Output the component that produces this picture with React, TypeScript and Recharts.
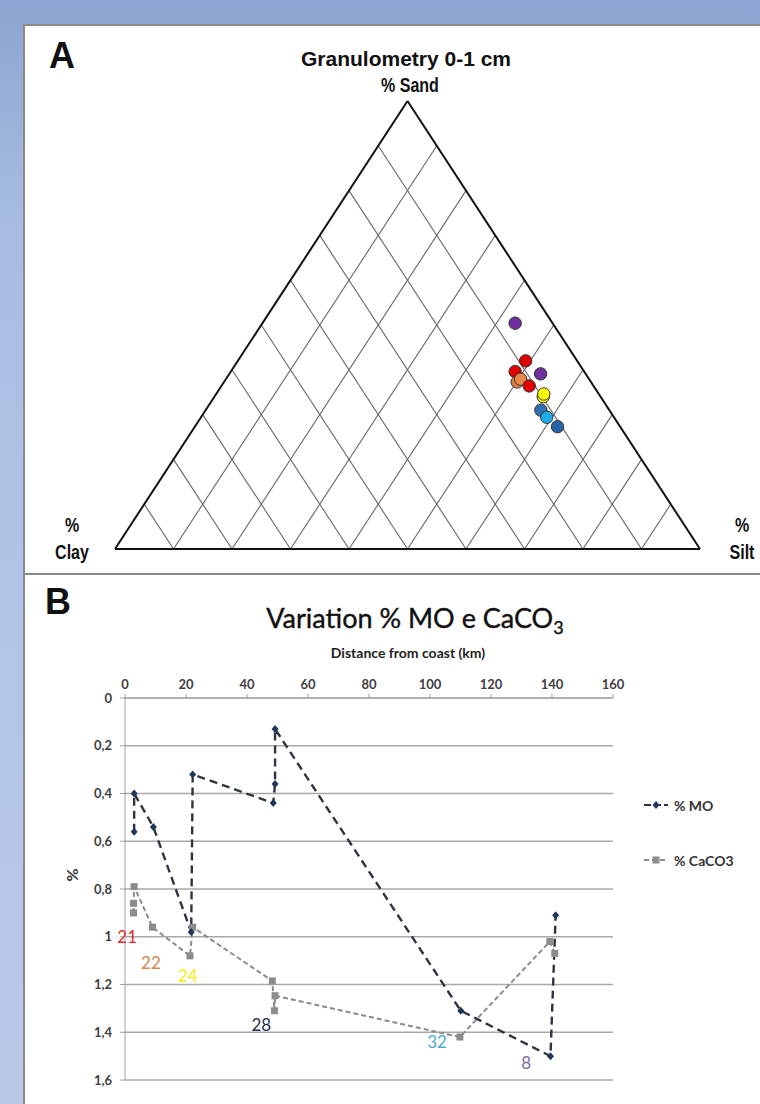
import React from 'react';
import {
  ScatterChart, Scatter, XAxis, YAxis, ReferenceLine, Cell,
  LineChart, Line, CartesianGrid, ReferenceDot,
} from 'recharts';

// A: granulometry of the 0-1 cm layer (%), one entry per sample
const sand = [50.4, 42.0, 39.6, 39.1, 37.3, 37.9, 36.4, 34.0, 34.6, 31.0, 29.4, 27.3];
const silt = [43.2, 49.2, 48.6, 53.2, 50.1, 50.4, 52.6, 56.2, 56.0, 57.3, 59.1, 62.0];
const sampleColors = [
  '#7030a0', '#e00000', '#e00000', '#7030a0', '#e07b3c', '#e8894a',
  '#e00000', '#ffff00', '#ffff00', '#2e6fb5', '#1fa9e6', '#2464a8',
];
const gridSteps = [10, 20, 30, 40, 50, 60, 70, 80, 90];

// B: % MO and % CaCO3 against distance from coast (km), in plotted order
const moKm = [3, 3, 9.3, 21.7, 22.2, 48.6, 49.2, 49.2, 110.1, 139.5, 141.2];
const moPct = [0.56, 0.4, 0.54, 0.98, 0.32, 0.44, 0.36, 0.13, 1.31, 1.5, 0.91];
const caKm = [2.8, 2.8, 3, 9, 21.3, 22.2, 48.3, 49, 49.2, 109.8, 139.3, 140.9];
const caPct = [0.9, 0.86, 0.79, 0.96, 1.08, 0.96, 1.185, 1.31, 1.247, 1.42, 1.02, 1.07];
const kmTicks = [0, 20, 40, 60, 80, 100, 120, 140, 160];
const pctTicks = [0, 0.2, 0.4, 0.6, 0.8, 1, 1.2, 1.4, 1.6];

// station numbers written next to the curves
const stationNames = ['21', '22', '24', '28', '32', '8'];
const stationKm = [0.7, 8.5, 20.6, 44.7, 102.3, 131.5];
const stationPct = [1.0, 1.11, 1.165, 1.37, 1.44, 1.527];
const stationColors = ['#e02b2b', '#d08848', '#f2ee10', '#1f3252', '#4bacc6', '#7a6a9a'];

const ternaryPts = sand.map((s, i) => ({ x: silt[i] + s / 2, y: s, color: sampleColors[i] }));
const moData = moKm.map((km, i) => ({ km, pct: moPct[i] }));
const caData = caKm.map((km, i) => ({ km, pct: caPct[i] }));

const arial = '"Liberation Sans", Arial, sans-serif';
const calibri = 'Lato, "Open Sans", sans-serif';

const fmtPct = (v: number) => (Number.isInteger(v) ? String(v) : v.toFixed(1).replace('.', ','));

function Diamond(p: any) {
  const { cx, cy } = p;
  return <path key={p.index} d={`M${cx},${cy - 4}L${cx + 3.5},${cy}L${cx},${cy + 4}L${cx - 3.5},${cy}Z`} fill="#22365a" />;
}

function Square(p: any) {
  return <rect key={p.index} x={p.cx - 3.5} y={p.cy - 3.5} width={7} height={7} fill="#8c8c8c" />;
}

function Text({ x, y, children, style }: any) {
  return (
    <div style={{ position: 'absolute', left: x, top: y, transform: 'translate(-50%,-50%)', whiteSpace: 'nowrap', lineHeight: 1, ...style }}>
      {children}
    </div>
  );
}

export default function App() {
  const narrow = { fontFamily: arial, fontWeight: 700, fontSize: 20, color: '#111', transform: 'translate(-50%,-50%) scaleX(0.8)' };
  const tick = { fill: '#404040', fontSize: 13, fontWeight: 700, fontFamily: calibri };
  return (
    <div style={{
      position: 'absolute', left: 0, top: 0, width: 760, height: 1104, overflow: 'hidden',
      background: 'linear-gradient(180deg, #8ba5d2 0%, #a8bce2 20%, #b3c5e7 60%, #b8c9e8 100%)',
    }}>
      {/* panel A */}
      <div style={{ position: 'absolute', left: 23, top: 24, width: 745, height: 547, background: '#fff', border: '2px solid #8a8a8a' }} />
      <Text x={62} y={56} style={{ fontFamily: arial, fontWeight: 700, fontSize: 36, color: '#111' }}>A</Text>
      <Text x={406} y={58} style={{ fontFamily: arial, fontWeight: 700, fontSize: 21, color: '#111' }}>Granulometry 0-1 cm</Text>
      <Text x={410} y={85} style={narrow}>% Sand</Text>
      <Text x={72} y={525} style={narrow}>%</Text>
      <Text x={72} y={552} style={narrow}>Clay</Text>
      <Text x={742} y={525} style={narrow}>%</Text>
      <Text x={742} y={552} style={narrow}>Silt</Text>

      <div style={{ position: 'absolute', left: 105, top: 91 }}>
        <ScatterChart width={605} height={468} margin={{ top: 10, right: 10, bottom: 10, left: 10 }}>
          <XAxis type="number" dataKey="x" domain={[0, 100]} hide />
          <YAxis type="number" dataKey="y" domain={[0, 100]} hide width={0} />
          {gridSteps.map((c) => (
            <ReferenceLine key={'c' + c} segment={[{ x: 100 - c, y: 0 }, { x: (100 - c) / 2, y: 100 - c }]} stroke="#666" strokeWidth={1.1} />
          ))}
          {gridSteps.map((s) => (
            <ReferenceLine key={'s' + s} segment={[{ x: s, y: 0 }, { x: s + (100 - s) / 2, y: 100 - s }]} stroke="#666" strokeWidth={1.1} />
          ))}
          <ReferenceLine segment={[{ x: 0, y: 0 }, { x: 100, y: 0 }]} stroke="#111" strokeWidth={2} />
          <ReferenceLine segment={[{ x: 0, y: 0 }, { x: 50, y: 100 }]} stroke="#111" strokeWidth={2} />
          <ReferenceLine segment={[{ x: 50, y: 100 }, { x: 100, y: 0 }]} stroke="#111" strokeWidth={2} />
          <Scatter
            data={ternaryPts}
            isAnimationActive={false}
            shape={(p: any) => <circle cx={p.cx} cy={p.cy} r={6.2} fill={p.fill} stroke="#333" strokeWidth={1} />}
          >
            {ternaryPts.map((d, i) => <Cell key={i} fill={d.color} />)}
          </Scatter>
        </ScatterChart>
      </div>

      {/* panel B */}
      <div style={{ position: 'absolute', left: 23, top: 573, width: 745, height: 540, background: '#fff', border: '2px solid #8a8a8a' }} />
      <Text x={58} y={602} style={{ fontFamily: arial, fontWeight: 700, fontSize: 36, color: '#111' }}>B</Text>
      <Text x={415} y={620} style={{ fontFamily: calibri, fontSize: 27, color: '#111', WebkitTextStroke: '0.4px #111' }}>
        Variation % MO e CaCO<sub style={{ fontSize: 18, verticalAlign: -6 }}>3</sub>
      </Text>
      <Text x={408} y={653} style={{ fontFamily: calibri, fontWeight: 700, fontSize: 14, color: '#222' }}>Distance from coast (km)</Text>
      <Text x={72} y={875} style={{ fontFamily: calibri, fontWeight: 700, fontSize: 16, color: '#333', transform: 'translate(-50%,-50%) rotate(-90deg)' }}>%</Text>

      <div style={{ position: 'absolute', left: 0, top: 640 }}>
        <LineChart width={760} height={460} margin={{ top: 28, right: 147, bottom: 20, left: 65 }}>
          <CartesianGrid vertical={false} stroke="#a8a8a8" strokeWidth={1.3} />
          <XAxis
            type="number" dataKey="km" orientation="top" domain={[0, 160]} ticks={kmTicks} height={30}
            stroke="#a0a0a0" tickSize={4} tickMargin={5} tick={tick}
          />
          <YAxis
            type="number" domain={[0, 1.6]} ticks={pctTicks} reversed width={60}
            stroke="#a0a0a0" tickSize={5} tickMargin={8} tickFormatter={fmtPct} tick={tick}
          />
          <Line
            data={caData} dataKey="pct" type="linear" stroke="#8c8c8c" strokeWidth={2}
            strokeDasharray="5 3" dot={Square} activeDot={false} isAnimationActive={false}
          />
          <Line
            data={moData} dataKey="pct" type="linear" stroke="#2e3440" strokeWidth={2.4}
            strokeDasharray="8 5" dot={Diamond} activeDot={false} isAnimationActive={false}
          />
          {stationNames.map((n, i) => (
            <ReferenceDot
              key={n} x={stationKm[i]} y={stationPct[i]} r={0} fill="none" stroke="none" ifOverflow="visible"
              label={{ value: n, position: 'center', fill: stationColors[i], fontSize: 17, fontFamily: calibri }}
            />
          ))}
        </LineChart>
      </div>

      {/* legend */}
      {[{ name: '% MO', y: 805, mo: true }, { name: '% CaCO3', y: 860, mo: false }].map((it) => (
        <div key={it.name} style={{ position: 'absolute', left: 643, top: it.y - 9, height: 18, display: 'flex', alignItems: 'center' }}>
          <svg width={26} height={18}>
            <line x1={1} y1={9} x2={25} y2={9} stroke={it.mo ? '#2e3440' : '#8c8c8c'} strokeWidth={2} strokeDasharray={it.mo ? '7 3' : '5 3'} />
            {it.mo
              ? <path d="M13,5L16.5,9L13,13L9.5,9Z" fill="#22365a" />
              : <rect x={9.5} y={5.5} width={7} height={7} fill="#8c8c8c" />}
          </svg>
          <span style={{ marginLeft: 5, fontFamily: calibri, fontWeight: 700, fontSize: 14, color: '#333' }}>{it.name}</span>
        </div>
      ))}
    </div>
  );
}
